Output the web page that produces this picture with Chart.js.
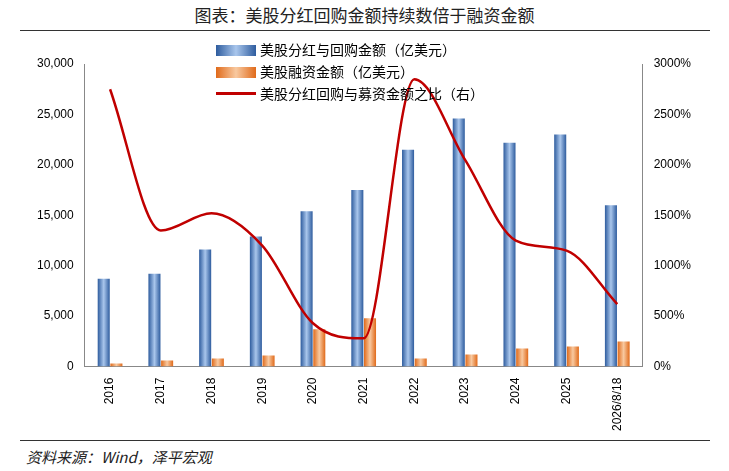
<!DOCTYPE html>
<html><head><meta charset="utf-8">
<script src="https://cdn.jsdelivr.net/npm/chart.js@4"></script>
<style>
body{margin:0;background:#fff;font-family:"Noto Sans CJK SC";}
#title{position:absolute;left:0;top:2px;width:729px;text-align:center;font-size:17px;color:#222;}
#tline{position:absolute;left:20px;top:30px;width:690px;border-top:1px solid #333;}
#wrap{position:absolute;left:20px;top:34px;width:690px;height:400px;}
#bline{position:absolute;left:20px;top:440px;width:690px;border-top:1px solid #333;}
#src{position:absolute;left:26px;top:446px;font-size:15px;font-style:italic;color:#222;}
#leg{position:absolute;left:216px;top:38px;font-size:14px;color:#000;line-height:22px;}
#leg span.k{display:inline-block;width:40px;height:11px;margin-right:4px;vertical-align:-1px;}
</style></head><body>
<div id="title">图表：美股分红回购金额持续数倍于融资金额</div>
<div id="tline"></div>
<div id="wrap"><canvas id="c"></canvas></div>
<div id="leg">
<div><span class="k" style="background:linear-gradient(90deg,#2E5C9E,#A9C6EC,#2E5C9E)"></span>美股分红与回购金额（亿美元）</div>
<div><span class="k" style="background:linear-gradient(90deg,#E06A1A,#F8C9A0,#E06A1A)"></span>美股融资金额（亿美元）</div>
<div><span class="k" style="height:3px;background:#C00000;vertical-align:4px"></span>美股分红回购与募资金额之比（右）</div>
</div>
<div id="bline"></div>
<div id="src">资料来源：Wind，泽平宏观</div>
<script>
var years = ['2016','2017','2018','2019','2020','2021','2022','2023','2024','2025','2026/8/18'];
var buyback = [8700,9200,11600,12900,15400,17500,21500,24600,22200,23000,16000];
var financing = [300,600,800,1100,3700,4800,800,1200,1800,2000,2500];
var ratio = [2750,1350,1520,1200,430,280,2850,2050,1250,1150,620];

var CAT = 0.5, BAR = 0.95;
function grad(ctx, side, c1, c2) {
    var ch = ctx.chart, sx = ch.scales && ch.scales.x;
    if (!ch.chartArea || !sx || ctx.dataIndex == null) return c2;
    var slot = sx.width / years.length * CAT / 2;
    var cx = sx.getPixelForValue(ctx.dataIndex) + side * slot / 2;
    var w = slot * BAR;
    var g = ch.ctx.createLinearGradient(cx - w/2, 0, cx + w/2, 0);
    g.addColorStop(0, c1); g.addColorStop(0.5, c2); g.addColorStop(1, c1);
    return g;
}

var c = document.getElementById('c').getContext('2d');
new Chart(c, {
    type: 'bar',
    data: {
        labels: years,
        datasets: [{
            type: 'line',
            data: ratio,
            yAxisID: 'y1',
            borderColor: '#C00000',
            borderWidth: 2.5,
            pointRadius: 0,
            cubicInterpolationMode: 'monotone',
            order: 0
        }, {
            data: buyback,
            yAxisID: 'y',
            backgroundColor: function (ctx) { return grad(ctx, -1, '#2E5C9E', '#A9C6EC'); },
            barPercentage: BAR,
            categoryPercentage: CAT,
            order: 1
        }, {
            data: financing,
            yAxisID: 'y',
            backgroundColor: function (ctx) { return grad(ctx, 1, '#E06A1A', '#F8C9A0'); },
            barPercentage: BAR,
            categoryPercentage: CAT,
            order: 1
        }]
    },
    options: {
        responsive: true,
        maintainAspectRatio: false,
        animation: false,
        layout: {padding: {left: 14, right: 16, top: 30}},
        plugins: {legend: {display: false}, tooltip: {enabled: false}},
        scales: {
            x: {
                grid: {display: false},
                border: {color: '#888'},
                ticks: {maxRotation: 90, minRotation: 90, color: '#000', font: {size: 12}}
            },
            y: {
                min: 0, max: 30000,
                ticks: {stepSize: 5000, color: '#000', font: {size: 12},
                    callback: function (v) { return v.toLocaleString('en-US'); }},
                grid: {display: false},
                border: {color: '#888'}
            },
            y1: {
                position: 'right',
                min: 0, max: 3000,
                ticks: {stepSize: 500, color: '#000', font: {size: 12},
                    callback: function (v) { return v + '%'; }},
                grid: {display: false},
                border: {color: '#888'}
            }
        }
    }
});
</script>
</body></html>
